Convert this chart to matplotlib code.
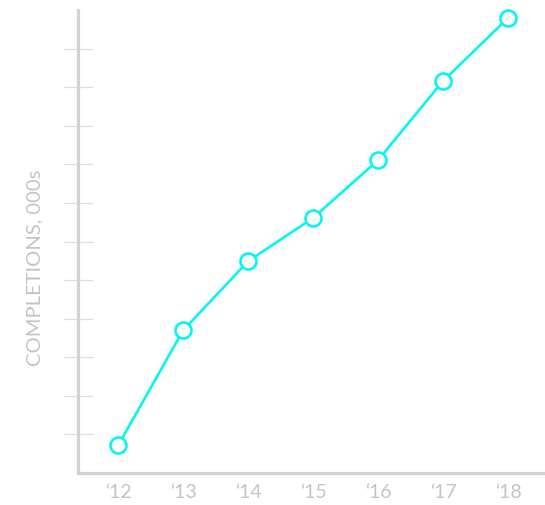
import matplotlib
matplotlib.use("Agg")
import matplotlib.pyplot as plt

years = ["\u201812", "\u201813", "\u201814", "\u201815", "\u201816", "\u201817", "\u201818"]
completions = [0.72, 3.70, 5.49, 6.61, 8.11, 10.16, 11.79]
y_ticks = [1, 2, 3, 4, 5, 6, 7, 8, 9, 10, 11]

plt.rcParams['font.family'] = ['Lato', 'DejaVu Sans']

fig = plt.figure(figsize=(5.45, 5.05), dpi=100)
ax = fig.add_axes([78/545, 32/505, 1 - 78/545, 463/505])

x = list(range(len(years)))
ax.plot(x, completions, color='#08f4f4', lw=1.9, marker='o', ms=11.5,
        mfc='white', mec='#08f4f4', mew=1.9, zorder=3, clip_on=False)

ax.set_xlim(-0.62, 6.57)
ax.set_ylim(0, 12)
ax.set_xticks(x)
ax.set_xticklabels(years, fontsize=14, color='#c4c4c4')
ax.set_yticks(y_ticks)
ax.set_yticklabels([])
ax.tick_params(axis='y', direction='inout', length=21.6, width=0.9, color='#dedede')
ax.tick_params(axis='x', length=0, pad=8)

for s in ['top', 'right']:
    ax.spines[s].set_visible(False)
for s in ['left', 'bottom']:
    ax.spines[s].set_color('#d2d2d2')
    ax.spines[s].set_linewidth(2.3)
    ax.spines[s].set_zorder(4)

ax.set_ylabel("COMPLETIONS, 000s", fontsize=14.5, color='#c4c4c4')
ax.yaxis.set_label_coords(-35/467, 1 - (268 - 10) / 463)

fig.savefig("out.png", dpi=100, facecolor='white')
